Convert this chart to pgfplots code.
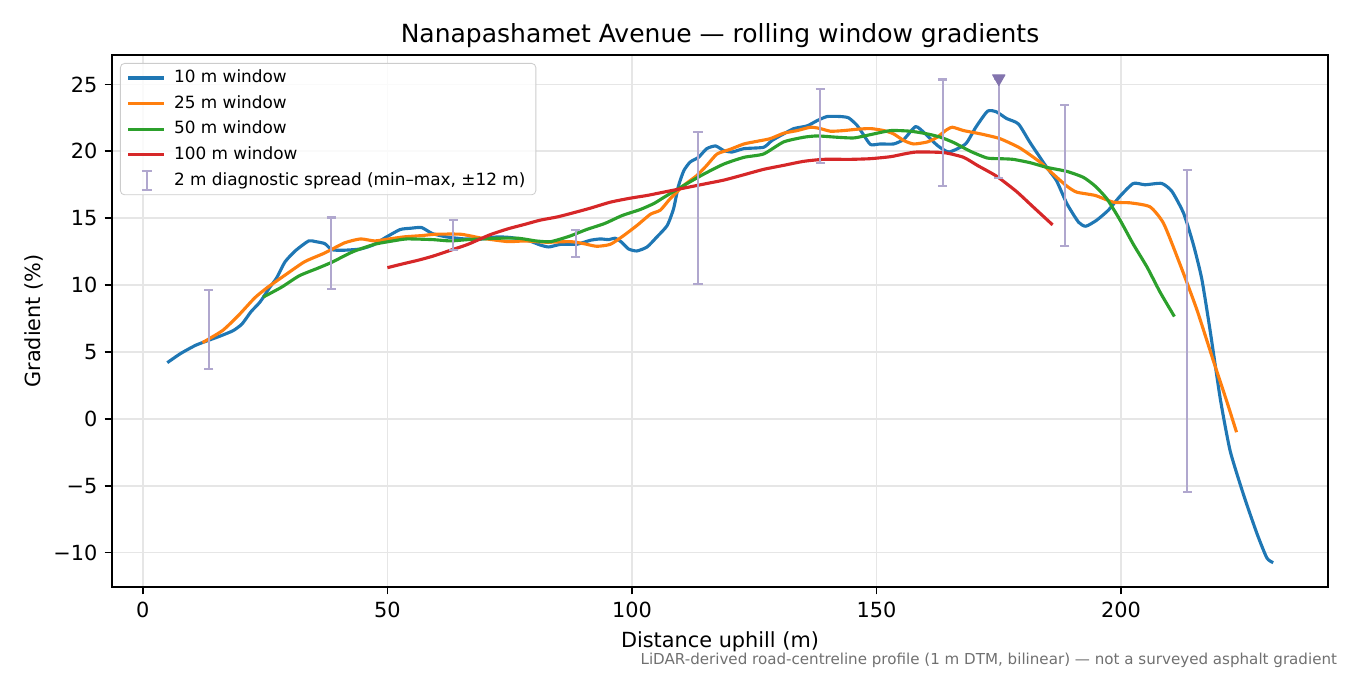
\documentclass[border=0pt]{standalone}
\usepackage{fontspec}
\setmainfont{DejaVu Sans}
\usepackage{pgfplots}
\pgfplotsset{compat=1.18}

\definecolor{cA}{HTML}{1F77B4}
\definecolor{cB}{HTML}{FF7F0E}
\definecolor{cC}{HTML}{2CA02C}
\definecolor{cD}{HTML}{D62728}
\definecolor{barcol}{HTML}{B0A7CE}
\definecolor{tricol}{HTML}{8374AE}
\definecolor{gridcol}{HTML}{E6E6E6}
\definecolor{notecol}{HTML}{707070}

\begin{document}
\begin{tikzpicture}
\useasboundingbox (-53.76pt,-42.24pt) rectangle (594.24pt,281.76pt);
\begin{axis}[
  name=ax,
  at={(0pt,0pt)}, anchor=south west,
  scale only axis, width=583.68pt, height=255.36pt,
  xmin=-6.3, xmax=242.3, ymin=-12.57, ymax=27.2,
  xtick={0,50,100,150,200}, xticklabels={0,50,100,150,200},
  ytick={-10,-5,0,5,10,15,20,25},
  yticklabels={−10,−5,0,5,10,15,20,25},
  xtick pos=left, ytick pos=left,
  tick align=outside, major tick length=3.5pt,
  every tick/.style={black, line width=0.8pt},
  axis line style={line width=0.8pt},
  ticklabel style={font=\fontsize{10}{12}\selectfont},
  grid=major, major grid style={gridcol, line width=0.8pt},
  xlabel={Distance uphill (m)}, ylabel={Gradient (\%)},
  label style={font=\fontsize{10}{12}\selectfont},
  ylabel style={yshift=-2pt},
  legend style={at={(0,1)}, anchor=north west, xshift=3.84pt, yshift=-3.84pt,
    font=\fontsize{8.1}{9.7}\selectfont, draw=black!20, rounded corners=2pt,
    fill=white, fill opacity=0.8, text opacity=1, row sep=0.6pt,
    column sep=2.2pt, inner xsep=3pt, inner ysep=1.2pt},
  legend cell align=left,
  every axis plot/.append style={line width=1.5pt, line join=round},
]
\addplot[cA, mark=none, smooth, tension=0.35] coordinates {
(5,4.2) (7.8,4.9) (10.8,5.5) (13.3,5.85) (15.9,6.2) (18.5,6.6) (20.3,7.1) (22.1,8.0)
(24,8.75) (25.8,9.75) (27.3,10.5) (29.1,11.75) (31.3,12.6) (33.9,13.3) (35.3,13.25)
(37.2,13.1) (38.6,12.65) (40.8,12.6) (44.5,12.7) (47.1,13.0) (49.6,13.55) (52.6,14.15)
(54.8,14.25) (57,14.3) (59.2,13.85) (62.1,13.6) (65.8,13.45) (69.4,13.45) (72.4,13.6)
(75.3,13.55) (79,13.3) (81.2,13.0) (83,12.85) (85.5,13.05) (88.7,13.05) (91.5,13.35)
(93.5,13.45) (95.2,13.4) (96.6,13.5) (97.9,13.2) (99.3,12.7) (101,12.55) (103.1,12.85)
(105.1,13.6) (107.2,14.45) (108.5,15.7) (109.5,17.4) (110.6,18.55) (111.9,19.2)
(113.6,19.55) (115.3,20.2) (117.1,20.4) (118.8,20.05) (120.5,19.95) (122.9,20.2)
(126.9,20.3) (128.6,20.8) (131,21.3) (133.1,21.7) (135.8,21.9) (137.9,22.3) (139.9,22.6)
(142.6,22.6) (144.3,22.5) (146,21.95) (147.4,21.2) (148.8,20.5) (150.8,20.55) (153.5,20.55)
(155.6,20.9) (158,21.85) (160,21.3) (162.4,20.45) (164.8,19.95) (168.2,20.55) (170.3,21.8)
(172.7,23.0) (174.5,22.95) (176.6,22.45) (179,22.05) (181.4,20.65) (184.8,18.8) (186.8,17.8)
(188.9,16.1) (191.3,14.7) (192.8,14.4) (195,14.85) (197.4,15.6) (199.8,16.65) (202.5,17.6)
(204.9,17.5) (208.3,17.6) (210.4,17.0) (212.8,15.35) (214.8,13.0) (216.5,10.45) (218.2,6.6)
(220.3,1.45) (222.3,-2.4) (225.1,-5.75) (227.8,-8.6) (229.8,-10.4) (231.1,-10.75)
};
\addlegendentry{10 m window}
\addplot[cB, mark=none, smooth, tension=0.35] coordinates {
(12.2,5.7) (16.3,6.6) (19.6,7.75) (22.9,9.05) (25.4,9.8) (29.1,10.75) (33.1,11.75)
(37.2,12.4) (41.2,13.15) (44.5,13.45) (47.4,13.3) (50.4,13.45) (53.3,13.6) (57,13.7)
(59.9,13.8) (65,13.8) (69.4,13.5) (74.6,13.25) (78.2,13.3) (82.6,13.2) (87.4,13.25)
(90.1,13.1) (92.8,12.9) (95.6,13.05) (98.3,13.7) (101,14.45) (103.8,15.3) (105.8,15.6)
(107.8,16.45) (110.6,17.45) (113.3,18.2) (115.3,18.95) (117.4,19.8) (120.1,20.15)
(122.9,20.55) (125.6,20.75) (128.3,20.95) (131,21.35) (133.8,21.55) (136.5,21.8)
(138.5,21.7) (140.6,21.5) (143.3,21.55) (146,21.65) (148.8,21.7) (151.5,21.55) (153.5,21.3)
(155.6,20.8) (157.6,20.55) (160.4,20.7) (162.4,21.05) (164.1,21.55) (165.5,21.8)
(167.8,21.55) (171.3,21.3) (175.2,20.95) (179.3,20.25) (183.4,19.2) (186.1,18.3)
(188.9,17.4) (190.9,16.95) (194.7,16.7) (198.4,16.2) (201.8,16.15) (205.9,15.85)
(208.7,14.6) (212.1,11.5) (215.5,8.15) (218.9,4.3) (221.7,1.2) (223.6,-1.0)
};
\addlegendentry{25 m window}
\addplot[cC, mark=none, smooth, tension=0.35] coordinates {
(24.6,9.1) (28.4,9.85) (32,10.7) (35.7,11.25) (38.6,11.7) (43,12.5) (47.4,13.05)
(51.1,13.3) (54,13.45) (59.2,13.4) (62.9,13.3) (66.5,13.4) (72.4,13.5) (76.8,13.5)
(80.4,13.3) (83.4,13.25) (87.2,13.65) (90.7,14.15) (94.4,14.6) (98,15.2) (101.7,15.65)
(104.5,16.1) (106.5,16.55) (110.6,17.45) (114.7,18.3) (118.8,19.05) (122.9,19.55)
(126.9,19.8) (131,20.7) (135.1,21.05) (137.9,21.15) (142,21.05) (145.4,21.0) (148.8,21.25)
(152.9,21.55) (157,21.5) (160.4,21.3) (163.1,21.05) (165.8,20.65) (169.2,20.0) (172.6,19.5)
(175.2,19.45) (177.9,19.4) (181.4,19.15) (184.8,18.8) (188.9,18.5) (192.3,18.05)
(194.7,17.4) (197.1,16.45) (199.8,14.85) (202.5,13.05) (205.3,11.35) (208,9.45) (210.9,7.65)
};
\addlegendentry{50 m window}
\addplot[cD, mark=none, smooth, tension=0.35] coordinates {
(50,11.3) (53.3,11.6) (56.2,11.85) (59.2,12.15) (62.9,12.6) (66.5,13.05) (70.9,13.75)
(74.6,14.2) (78.2,14.55) (81.2,14.85) (84.8,15.1) (88.5,15.45) (91.5,15.75) (95.6,16.2)
(99.7,16.5) (103.1,16.7) (106.5,16.95) (110.6,17.25) (114.7,17.55) (118.8,17.85)
(122.9,18.25) (126.9,18.65) (131,18.95) (135.1,19.25) (139.2,19.4) (144.7,19.4)
(148.8,19.45) (152.9,19.6) (155.6,19.8) (158.3,19.95) (163.8,19.9) (167.8,19.55)
(170.6,18.95) (174.5,18.15) (178.6,17.0) (182,15.85) (186,14.5)
};
\addlegendentry{100 m window}
% 2 m diagnostic spread: midpoint +- half range
\addplot[draw=none, mark=none, forget plot,
  error bars/.cd, y dir=both, y explicit,
  error bar style={draw=barcol, line width=1pt},
  error mark options={draw=barcol, rotate=90, mark size=2.2pt, line width=1pt}]
coordinates {
(13.5,6.665) +- (0,2.965)
(38.5,12.375) +- (0,2.675)
(63.5,13.755) +- (0,1.125)
(88.5,13.115) +- (0,1.015)
(113.5,15.745) +- (0,5.695)
(138.5,21.885) +- (0,2.765)
(163.5,21.385) +- (0,3.985)
(188.5,18.18) +- (0,5.28)
(213.5,6.59) +- (0,12.03)
(175,21.7) +- (0,3.7)
};
\addlegendimage{legend image code/.code={
  \draw[barcol, line width=1pt] (0.9em,-0.45em) -- (0.9em,0.45em);
  \draw[barcol, line width=1pt] (0.65em,-0.45em) -- (1.15em,-0.45em);
  \draw[barcol, line width=1pt] (0.65em,0.45em) -- (1.15em,0.45em);}}
\addlegendentry{2 m diagnostic spread (min–max, ±12 m)}
\addplot[only marks, forget plot, mark=triangle*, mark size=3.4pt,
  mark options={rotate=180, fill=tricol, draw=tricol, line width=0.5pt}]
coordinates {(175,25.45)};
\end{axis}
\node[anchor=base, inner sep=0pt, font=\fontsize{12}{14}\selectfont]
  at ([yshift=6.2pt]ax.north) {Nanapashamet Avenue — rolling window gradients};
\node[anchor=base east, inner sep=0pt, font=\fontsize{7.25}{8.7}\selectfont, text=notecol]
  at (588.2pt,-37.3pt) {LiDAR-derived road-centreline profile (1 m DTM, bilinear) — not a surveyed asphalt gradient};
\end{tikzpicture}
\end{document}
